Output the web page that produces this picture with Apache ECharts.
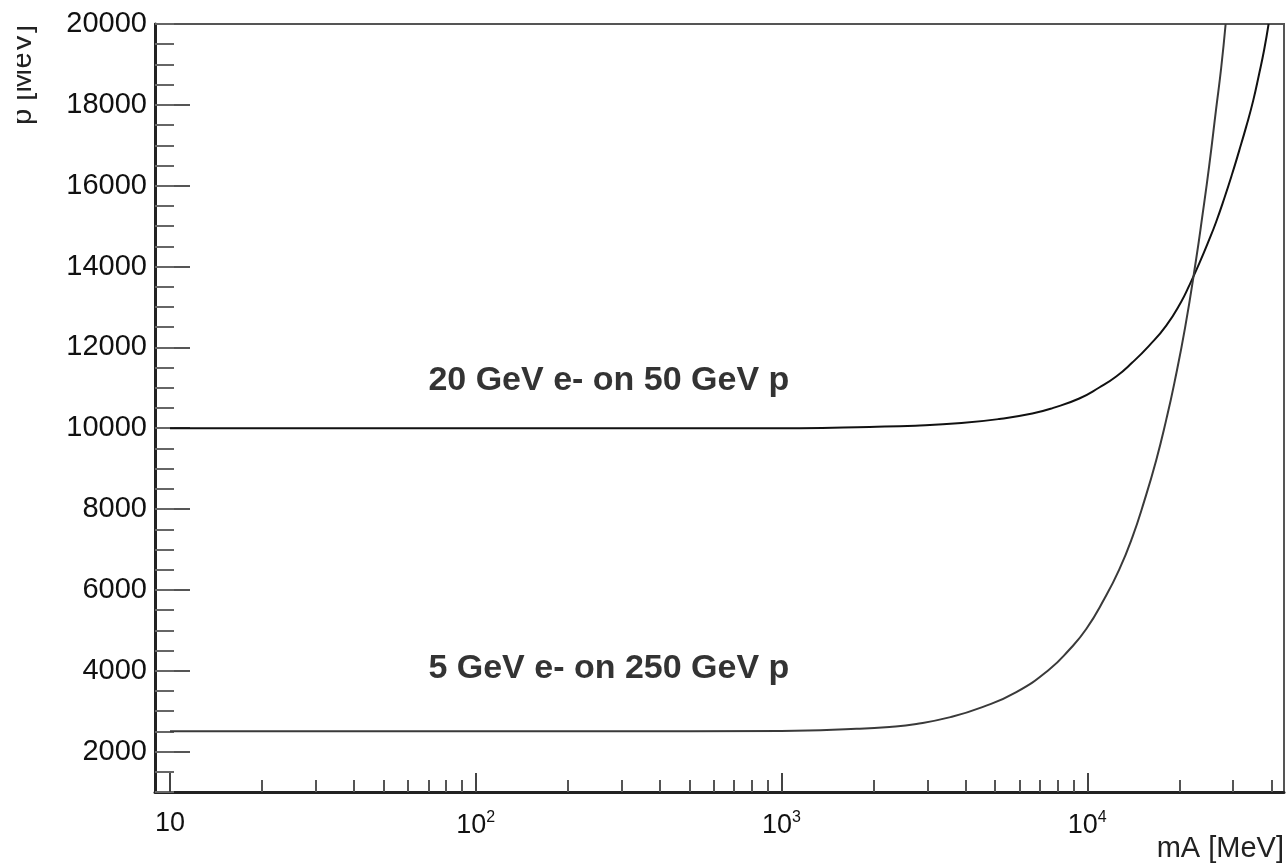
<!DOCTYPE html>
<html><head><meta charset="utf-8">
<script src="https://cdn.jsdelivr.net/npm/echarts@6/dist/echarts.min.js"></script>
<style>html,body{margin:0;padding:0;background:#fff}#c{width:1287px;height:863px}</style>
</head><body><div id="c"></div>
<script>
// ---- data ----
const upperName = '20 GeV e- on 50 GeV p';
const upperMass = [10, 254, 1145, 1940, 2741, 3876, 5157, 6612, 7742, 9417, 10945, 12436, 14035, 15945, 18125, 20291, 21543, 23227, 25047, 26404, 28033, 29786, 31385, 33083, 34873, 36483, 37880, 39183];
const upperMomentum = [10000, 10000, 10002, 10033, 10063, 10127, 10228, 10364, 10503, 10735, 11007, 11278, 11624, 12044, 12538, 13131, 13527, 14070, 14663, 15108, 15676, 16294, 16862, 17455, 18098, 18765, 19358, 20000];

const lowerName = '5 GeV e- on 250 GeV p';
const lowerMass = [10, 254, 1000, 1758, 2254, 2761, 3539, 4538, 5861, 7511, 8733, 9924, 11363, 12720, 14028, 15358, 16807, 18122, 19244, 20904, 22708, 23757, 25041, 26397, 27406, 28351];
const lowerMomentum = [2500, 2500, 2512, 2564, 2611, 2685, 2846, 3100, 3471, 4032, 4519, 5032, 5774, 6502, 7293, 8197, 9210, 10206, 11098, 12499, 14186, 15214, 16484, 17907, 18905, 20000];

const xMajorTicks = [10, 100, 1000, 10000];
const xMinorTicks = [20, 30, 40, 50, 60, 70, 80, 90, 200, 300, 400, 500, 600, 700, 800, 900, 2000, 3000, 4000, 5000, 6000, 7000, 8000, 9000, 20000, 30000, 40000];
const yMajorTicks = [2000, 4000, 6000, 8000, 10000, 12000, 14000, 16000, 18000, 20000];
const xRange = [8.93, 44000];
const yRange = [1000, 20000];
const xTitle = 'mA [MeV]';
const yTitle = 'p [MeV]';
// annotation anchor points (left edge, vertical middle) in data units
const annotationMass = [70, 70];
const annotationMomentum = [11185, 4049];
const annotationText = [upperName, lowerName];

const FONT = 'Liberation Sans, Arial, Helvetica, sans-serif';
const chart = echarts.init(document.getElementById('c'));

const option = {
  animation: false,
  backgroundColor: '#fff',
  grid: { left: 155, right: 2, top: 24, bottom: 70, show: true, borderColor: '#555', borderWidth: 2, backgroundColor: 'transparent' },
  xAxis: [{
    type: 'log', logBase: 10, min: xRange[0], max: xRange[1], position: 'bottom',
    axisLine: { show: true, lineStyle: { color: '#222', width: 3 } },
    axisTick: { show: true, inside: true, length: 19, customValues: xMajorTicks, lineStyle: { color: '#444', width: 2 } },
    axisLabel: {
      show: true, customValues: xMajorTicks, margin: 18, color: '#111', fontFamily: FONT, fontSize: 27,
      formatter: function (v) { const e = Math.round(Math.log10(v)); return e === 1 ? '10' : '10{sup|' + e + '}'; },
      rich: { sup: { fontSize: 16, fontFamily: FONT, color: '#111', padding: [0, 0, 16, 0] } }
    },
    splitLine: { show: false }, minorTick: { show: false },
    name: xTitle, nameLocation: 'end', nameGap: 0,
    nameTextStyle: { fontFamily: FONT, fontSize: 29, color: '#222', align: 'right', verticalAlign: 'top', padding: [42, 0, 0, 0] }
  }, {
    type: 'log', logBase: 10, min: xRange[0], max: xRange[1], position: 'bottom',
    axisLine: { show: false },
    axisTick: { show: true, inside: true, length: 12, customValues: xMinorTicks, lineStyle: { color: '#555', width: 2 } },
    axisLabel: { show: false }, splitLine: { show: false }
  }],
  yAxis: [{
    type: 'value', min: yRange[0], max: yRange[1], position: 'left',
    axisLine: { show: true, lineStyle: { color: '#222', width: 3 } },
    axisTick: { show: true, inside: true, length: 35, customValues: yMajorTicks, lineStyle: { color: '#555', width: 2 } },
    axisLabel: { show: true, customValues: yMajorTicks, margin: 8, color: '#111', fontFamily: FONT, fontSize: 29, formatter: v => String(v) },
    splitLine: { show: false }
  }, {
    type: 'value', min: yRange[0], max: yRange[1], interval: 500, position: 'left',
    axisLine: { show: false },
    axisTick: { show: true, inside: true, length: 19, lineStyle: { color: '#666', width: 2 } },
    axisLabel: { show: false }, splitLine: { show: false }
  }],
  graphic: [{
    type: 'text', x: 23, y: 25, rotation: Math.PI / 2, z: 10,
    style: { text: yTitle, font: '29px ' + FONT, fill: '#222', align: 'right', verticalAlign: 'middle' }
  }, {
    type: 'rect', z: 11, shape: { x: 0, y: 15, width: 17, height: 130 }, style: { fill: '#fff' }, silent: true
  }],
  series: [{
    name: upperName, type: 'line', xAxisIndex: 0, yAxisIndex: 0,
    data: upperMass.map((m, i) => [m, upperMomentum[i]]),
    showSymbol: false, smooth: 0.5, clip: true,
    lineStyle: { color: '#111', width: 2 }
  }, {
    name: lowerName, type: 'line', xAxisIndex: 0, yAxisIndex: 0,
    data: lowerMass.map((m, i) => [m, lowerMomentum[i]]),
    showSymbol: false, smooth: 0.5, clip: true,
    lineStyle: { color: '#3a3a3a', width: 2 }
  }, {
    name: 'annotations', type: 'scatter', xAxisIndex: 0, yAxisIndex: 0,
    data: annotationMass.map((m, i) => ({ value: [m, annotationMomentum[i]], label: { formatter: annotationText[i] } })),
    symbolSize: 1, itemStyle: { color: 'rgba(0,0,0,0)' }, silent: true,
    label: { show: true, position: 'inside', align: 'left', verticalAlign: 'middle', fontFamily: FONT, fontWeight: 'bold', fontSize: 34, color: '#000', textBorderWidth: 0 }
  }]
};
chart.setOption(option);
</script>
</body></html>
